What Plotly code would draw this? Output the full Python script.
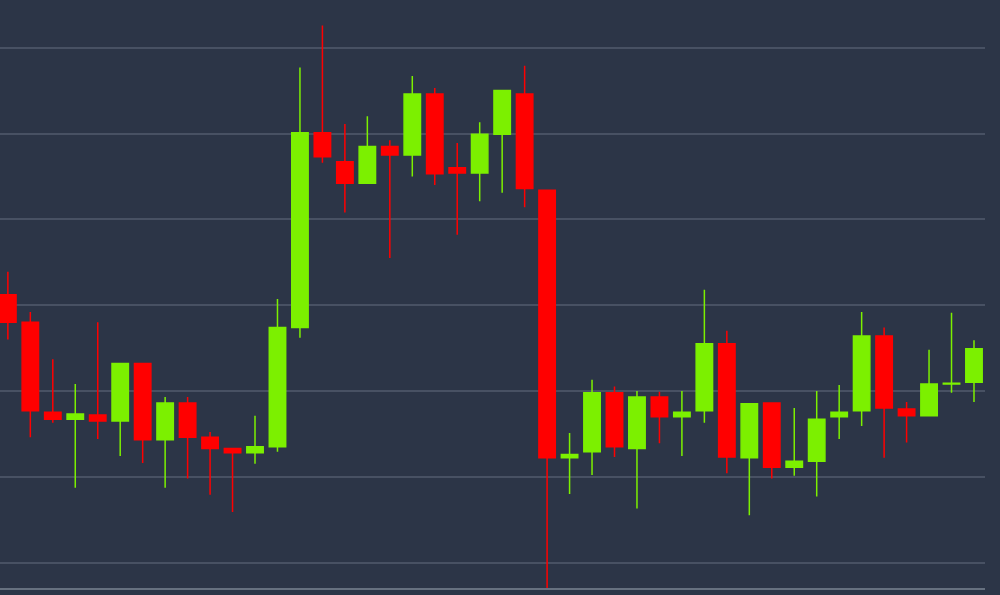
import plotly.graph_objects as go

# Candle data (price units; grid every 100)
opens  = [9712, 9680, 9575, 9567, 9572, 9565, 9632, 9543, 9586, 9546, 9533, 9528,
          9535, 9674, 9901, 9867, 9842, 9885, 9875, 9946, 9860, 9854, 9899, 9946,
          9834, 9522, 9529, 9598, 9533, 9593, 9570, 9577, 9655, 9522, 9586, 9511,
          9518, 9570, 9577, 9664, 9579, 9571, 9608, 9610]
highs  = [9739, 9692, 9637, 9608, 9680, 9632, 9632, 9593, 9593, 9552, 9533, 9571,
          9707, 9977, 10026, 9911, 9920, 9892, 9967, 9953, 9889, 9913, 9950, 9979,
          9834, 9551, 9613, 9605, 9600, 9599, 9600, 9718, 9670, 9585, 9586, 9580,
          9600, 9607, 9692, 9674, 9587, 9648, 9691, 9659]
lows   = [9660, 9546, 9563, 9487, 9544, 9524, 9516, 9487, 9498, 9479, 9459, 9515,
          9529, 9662, 9866, 9808, 9842, 9755, 9850, 9840, 9782, 9821, 9831, 9814,
          9360, 9480, 9502, 9523, 9463, 9539, 9524, 9563, 9504, 9455, 9498, 9501,
          9477, 9544, 9559, 9522, 9540, 9571, 9598, 9587]
closes = [9680, 9577, 9567, 9573, 9565, 9632, 9543, 9586, 9546, 9533, 9528, 9535,
          9674, 9901, 9873, 9842, 9885, 9875, 9946, 9853, 9854, 9899, 9950, 9836,
          9522, 9526, 9598, 9535, 9593, 9570, 9575, 9655, 9523, 9585, 9511, 9518,
          9567, 9575, 9664, 9580, 9571, 9608, 9609, 9649]
periods = list(range(len(opens)))

BG = "#2c3547"
GREEN = "#7cf000"
RED = "#ff0000"

fig = go.Figure(go.Candlestick(
    x=periods, open=opens, high=highs, low=lows, close=closes,
    increasing=dict(line=dict(color=GREEN, width=1.5), fillcolor=GREEN),
    decreasing=dict(line=dict(color=RED, width=1.5), fillcolor=RED),
    whiskerwidth=0,
    showlegend=False,
    hoverinfo="x+y",
))

fig.update_layout(
    width=1000, height=595,
    margin=dict(l=0, r=15, t=0, b=7),
    paper_bgcolor=BG, plot_bgcolor=BG,
    boxgap=0.27, boxgroupgap=0,
    xaxis=dict(range=[-0.35, 43.49], showgrid=False, zeroline=False,
               showticklabels=False, rangeslider=dict(visible=False),
               showline=True, linecolor="#66707f", linewidth=2),
    yaxis=dict(range=[9370.3, 10055.6], dtick=100, tick0=9400,
               showgrid=True, gridcolor="#485163", gridwidth=1.5,
               zeroline=False, showticklabels=False),
)

fig.write_html(
    "out.html",
    config={"displayModeBar": False},
    post_script="document.body.style.margin='0';document.body.style.background='%s';" % BG,
)
